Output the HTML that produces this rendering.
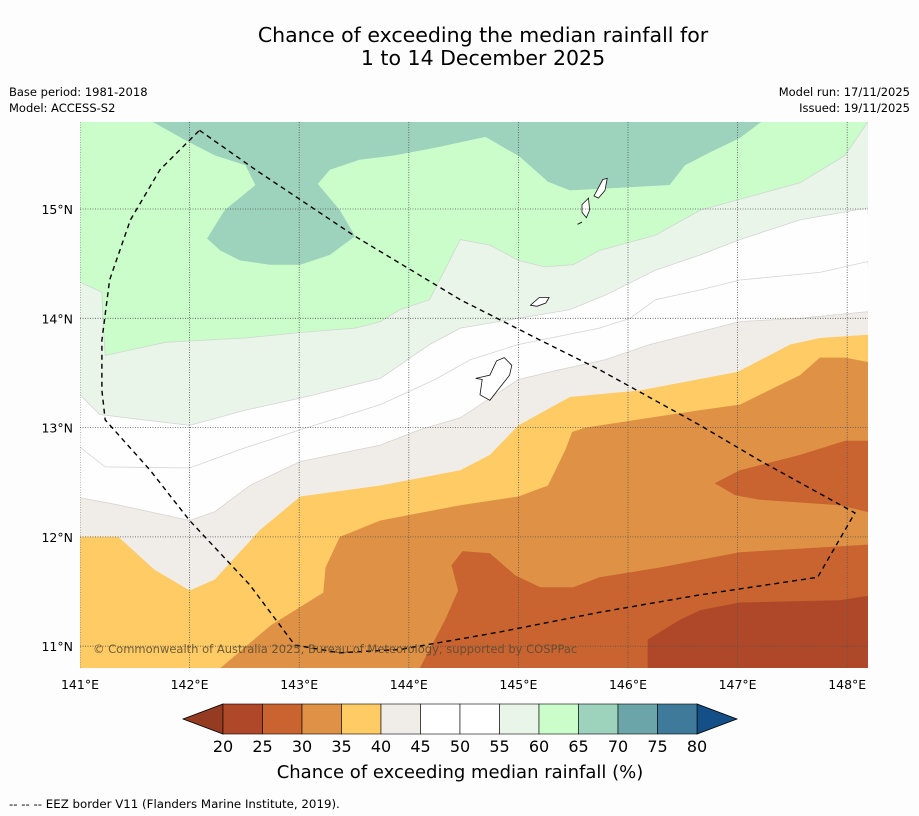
<!DOCTYPE html>
<html><head><meta charset="utf-8"><style>
body{margin:0;background:#fdfdfd;font-family:"DejaVu Sans","Liberation Sans",sans-serif;}
svg{display:block;font-family:"DejaVu Sans","Liberation Sans",sans-serif;}
</style></head><body>
<svg id="c" width="919" height="816" xmlns="http://www.w3.org/2000/svg">
<rect width="919" height="816" fill="#fdfdfd"/>
<text x="483" y="42" font-size="20.5" text-anchor="middle">Chance of exceeding the median rainfall for</text>
<text x="483" y="65" font-size="20.5" text-anchor="middle">1 to 14 December 2025</text>
<text x="9" y="96" font-size="11.5">Base period: 1981-2018</text>
<text x="9" y="112" font-size="11.5">Model: ACCESS-S2</text>
<text x="910" y="96" font-size="11.5" text-anchor="end">Model run: 17/11/2025</text>
<text x="910" y="112" font-size="11.5" text-anchor="end">Issued: 19/11/2025</text>
<defs><clipPath id="mc"><rect x="80" y="122" width="788" height="546"/></clipPath></defs>
<g id="map" clip-path="url(#mc)"></g>
<g id="cb"></g>
<text x="460" y="778" font-size="18" text-anchor="middle">Chance of exceeding median rainfall (%)</text>
<text x="9" y="808" font-size="11.8">--  --  -- EEZ border V11 (Flanders Marine Institute, 2019).</text>
</svg>
<script>
const lonTicks=[141,142,143,144,145,146,147,148];
const latTicks=[11,12,13,14,15];
const cbLevels=[20,25,30,35,40,45,50,55,60,65,70,75,80];
const cbColors=["#ae4828","#c96431","#df9245","#fecb65","#f0ece7","#ffffff","#ffffff","#eaf5ea","#cafdca","#9dd2bd","#6ba5a9","#3f7a9a"];
const darkGreenBlob=[[141.66,15.8],[141.96,15.63],[142.23,15.49],[142.51,15.4],[142.6,15.22],[142.32,14.99],[142.16,14.73],[142.28,14.62],[142.46,14.53],[142.73,14.49],[143.01,14.49],[143.28,14.58],[143.51,14.75],[143.37,14.99],[143.17,15.23],[143.28,15.36],[143.55,15.45],[143.87,15.49],[144.24,15.56],[144.7,15.66],[145.01,15.48],[145.27,15.25],[145.47,15.17],[146.38,15.22],[146.52,15.4],[146.75,15.52],[147.02,15.65],[147.22,15.8]];
const c55=[[141,14.33],[141.2,14.24],[141.21,13.98],[141.23,13.66],[141.78,13.78],[142.51,13.82],[143.01,13.87],[143.51,13.91],[143.74,13.97],[143.92,14.08],[144.19,14.17],[144.47,14.72],[144.74,14.67],[145,14.53],[145.24,14.47],[145.5,14.49],[145.74,14.62],[146.25,14.76],[146.66,14.99],[147.57,15.24],[147.98,15.49],[148.19,15.8]];
const c50=[[141,13.3],[141.18,13.12],[142,13.02],[142.51,13.16],[143.01,13.27],[143.74,13.45],[144.19,13.76],[144.47,13.91],[145,14],[145.47,14.08],[145.79,14.21],[146.25,14.44],[146.66,14.58],[147.02,14.72],[147.57,14.9],[148.19,15.01]];
const c45=[[141,12.82],[141.23,12.64],[142,12.63],[142.46,12.8],[143.01,12.98],[143.74,13.21],[144.24,13.44],[144.56,13.62],[145,13.76],[145.74,13.91],[146.02,14],[146.25,14.17],[146.66,14.26],[147.02,14.35],[147.75,14.42],[148.19,14.52]];
const c40=[[141,12.36],[141.36,12.29],[142,12.15],[142.23,12.23],[142.55,12.47],[143.01,12.69],[143.74,12.84],[144.1,12.98],[144.47,13.09],[145,13.44],[145.38,13.53],[145.79,13.62],[146.2,13.76],[147.02,13.97],[147.57,14],[148.19,14.06]];
const c35=[[141,12],[141.35,12],[141.68,11.7],[142,11.51],[142.23,11.61],[142.64,12.06],[143.01,12.37],[143.74,12.47],[144.47,12.61],[144.74,12.75],[145,13.02],[145.47,13.28],[146.11,13.34],[147,13.51],[147.48,13.76],[147.75,13.82],[148.19,13.85]];
const c30=[[142.28,10.8],[142.74,11.19],[143.22,11.49],[143.24,11.72],[143.37,12],[143.74,12.15],[144.47,12.29],[145,12.37],[145.27,12.47],[145.43,12.8],[145.49,12.96],[145.61,13],[146.66,13.16],[147.02,13.21],[147.57,13.48],[147.75,13.64],[147.98,13.64],[148.19,13.6]];
const c25=[[144.1,10.8],[144.33,11.24],[144.45,11.51],[144.39,11.74],[144.49,11.87],[144.74,11.85],[144.97,11.65],[145.2,11.54],[145.5,11.54],[145.74,11.63],[146.29,11.72],[147.02,11.86],[148.19,11.93]];
const c25blob=[[146.79,12.49],[147.02,12.61],[147.57,12.75],[147.98,12.88],[148.3,12.88],[148.3,12.2],[147.93,12.29],[147.2,12.34],[146.98,12.38]];
const c20=[[146.18,10.7],[146.18,11.06],[146.47,11.24],[146.66,11.33],[147.02,11.4],[147.93,11.42],[148.19,11.46]];
const eez=[[142.09,15.72],[142.6,15.36],[143.51,14.75],[144.47,14.17],[145.2,13.8],[145.74,13.53],[146.66,13.02],[147.2,12.7],[148.07,12.22],[147.73,11.63],[146.66,11.47],[145.74,11.31],[144.83,11.13],[143.92,10.97],[143.37,10.94],[142.96,11.01],[142.55,11.56],[142,12.15],[141.64,12.61],[141.23,13.07],[141.2,13.34],[141.2,13.8],[141.27,14.35],[141.46,14.9],[141.73,15.36],[142.09,15.72]];
const guam=[[144.61,13.45],[144.74,13.48],[144.8,13.61],[144.87,13.64],[144.94,13.57],[144.92,13.48],[144.81,13.34],[144.74,13.25],[144.65,13.3],[144.67,13.44],[144.61,13.45]];
const rota=[[145.11,14.12],[145.19,14.19],[145.28,14.19],[145.25,14.14],[145.17,14.11],[145.11,14.12]];
const saipan=[[145.69,15.12],[145.77,15.27],[145.81,15.28],[145.79,15.17],[145.73,15.1],[145.69,15.12]];
const tinian=[[145.58,15.04],[145.64,15.1],[145.65,14.99],[145.62,14.92],[145.58,14.97],[145.58,15.04]];
const aguijan=[[145.54,14.86],[145.58,14.88]];

const X=lon=>80+(lon-141)*109.6;
const Y=lat=>209+(15-lat)*109.3;
const NS="http://www.w3.org/2000/svg";
const map=document.getElementById('map');
function pts(a){return a.map(p=>X(p[0]).toFixed(1)+','+Y(p[1]).toFixed(1)).join(' ');}
function below(a){return pts(a)+' '+X(148.4)+','+Y(10.6)+' '+X(140.9)+','+Y(10.6)+' '+X(140.9)+','+Y(a[0][1]);}
function poly(points,fill,stroke,name){const e=document.createElementNS(NS,'polygon');e.setAttribute('points',points);e.setAttribute('fill',fill);e.setAttribute('stroke',stroke||'none');e.setAttribute('stroke-width','0.8');


map.appendChild(e);}
function line(points,stroke,dash,w,name,parent){const e=document.createElementNS(NS,'polyline');e.setAttribute('points',points);e.setAttribute('fill','none');e.setAttribute('stroke',stroke);e.setAttribute('stroke-width',w);if(dash)e.setAttribute('stroke-dasharray',dash);


(parent||map).appendChild(e);}
const bg=document.createElementNS(NS,'rect');bg.setAttribute('x',80);bg.setAttribute('y',122);bg.setAttribute('width',788);bg.setAttribute('height',546);bg.setAttribute('fill','#cafdca');


map.appendChild(bg);
poly(pts(darkGreenBlob)+' '+X(147.22)+','+Y(15.9)+' '+X(141.66)+','+Y(15.9),'#9dd2bd','none','band-65-70');
poly(below(c55),'#eaf5ea','#cfd8cf','band-55-60');
poly(below(c50),'#fefefe','#d4d4d4','band-50-55');
poly(below(c45),'#fefefe','#d4d4d4','band-45-50');
poly(below(c40),'#f0ece7','#d8d4d0','band-40-45');
poly(below(c35),'#fecb65','none','band-35-40');
poly(below(c30),'#df9245','none','band-30-35');
poly(below(c25),'#c96431','none','band-25-30');
poly(pts(c25blob),'#c96431','none','band-25-30-blob');
poly(below(c20),'#ae4828','none','band-20-25');
[[guam,'guam-outline'],[rota,'rota-outline'],[saipan,'saipan-outline'],[tinian,'tinian-outline']].forEach(([a,n])=>{poly(pts(a),'#ffffff','#111',n);});
line(pts(aguijan),'#111',null,1,'aguijan-outline');
const grid=document.getElementById('c');
lonTicks.forEach(l=>{line(X(l)+','+122+' '+X(l)+','+668,'#555','1,1.5',0.8,'gridline-lon');
const t=document.createElementNS(NS,'text');t.setAttribute('x',X(l));t.setAttribute('y',689);t.setAttribute('font-size','12.5');t.setAttribute('text-anchor','middle');t.textContent=l+'°E';


grid.appendChild(t);});
latTicks.forEach(l=>{line('80,'+Y(l)+' 868,'+Y(l),'#555','1,1.5',0.8,'gridline-lat');
const t=document.createElementNS(NS,'text');t.setAttribute('x',73);t.setAttribute('y',Y(l)+5);t.setAttribute('font-size','12.5');t.setAttribute('text-anchor','end');t.textContent=l+'°N';


grid.appendChild(t);});
line(pts(eez),'#000','5,4',1.4,'eez-border');
const cr=document.createElementNS(NS,'text');cr.setAttribute('x',93);cr.setAttribute('y',653);cr.setAttribute('font-size','11.5');cr.setAttribute('fill','#5a4a30');cr.setAttribute('opacity','0.85');cr.textContent='© Commonwealth of Australia 2025, Bureau of Meteorology, supported by COSPPac';


map.appendChild(cr);
const cb=document.getElementById('cb');
const cx0=223,cx1=697,cy0=704,cy1=734;
const bw=(cx1-cx0)/cbColors.length;
const lt=document.createElementNS(NS,'polygon');lt.setAttribute('points',`${cx0},${cy0} ${cx0},${cy1} 183,${(cy0+cy1)/2}`);lt.setAttribute('fill','#953b22');lt.setAttribute('stroke','#000');lt.setAttribute('stroke-width','0.8');


cb.appendChild(lt);
const rt=document.createElementNS(NS,'polygon');rt.setAttribute('points',`${cx1},${cy0} ${cx1},${cy1} 737,${(cy0+cy1)/2}`);rt.setAttribute('fill','#154f87');rt.setAttribute('stroke','#000');rt.setAttribute('stroke-width','0.8');


cb.appendChild(rt);
cbColors.forEach((c,i)=>{const r=document.createElementNS(NS,'rect');r.setAttribute('x',cx0+i*bw);r.setAttribute('y',cy0);r.setAttribute('width',bw);r.setAttribute('height',cy1-cy0);r.setAttribute('fill',c);r.setAttribute('stroke','#000');r.setAttribute('stroke-width','0.6');


cb.appendChild(r);});
cbLevels.forEach((v,i)=>{const t=document.createElementNS(NS,'text');t.setAttribute('x',cx0+i*bw);t.setAttribute('y',752);t.setAttribute('font-size','16');t.setAttribute('text-anchor','middle');t.textContent=v;


cb.appendChild(t);});
</script>
</body></html>
